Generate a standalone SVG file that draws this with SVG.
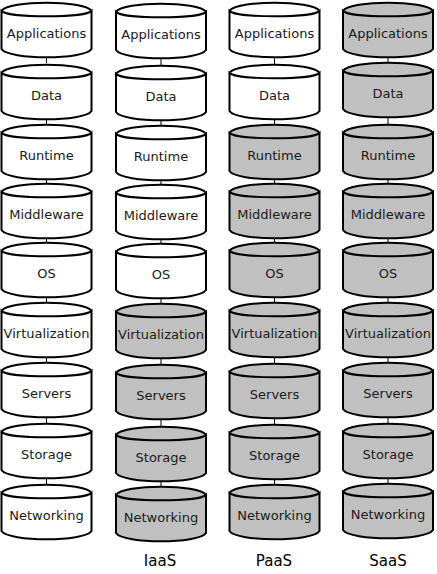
<svg xmlns="http://www.w3.org/2000/svg" xmlns:xlink="http://www.w3.org/1999/xlink" width="437" height="574" viewBox="0 0 437 574">
<defs>
<style>
.cyl{stroke:#000;stroke-width:2;stroke-linejoin:miter}
.w{fill:#fff}
.g{fill:#c0c0c0}
.lbl{font-family:"DejaVu Sans",Verdana,sans-serif;font-size:13px;fill:#1a1a1a;text-anchor:middle}
.cap{font-family:"DejaVu Sans",Verdana,sans-serif;font-size:15px;fill:#000;text-anchor:middle}
.con{stroke:#000;stroke-width:1;fill:none}
</style>
<path id="cyl" d="M-45,-22 C-38,-33 38,-33 45,-22 C38,-15 -38,-15 -45,-22 Z M-45,-22 L-45,16 C-38,27 38,27 45,16 L45,-22 C38,-15 -38,-15 -45,-22 Z"/>
</defs>
<rect width="437" height="574" fill="#fff"/>
<g id="connectors">
<path class="con" d="M46.5,57 V63 M46.5,119 V125 M46.5,179 V184 M46.5,238 V243 M46.5,297 V303 M46.5,357 V363 M46.5,417 V424 M46.5,478 V485"/>
<path class="con" d="M161,58 V66 M161,120 V126 M161,180 V185 M161,239 V244 M161,298 V304 M161,358 V365 M161,419 V427 M161,481 V487"/>
<path class="con" d="M274.5,57 V65 M274.5,119 V125 M274.5,179 V184 M274.5,238 V243 M274.5,297 V303 M274.5,357 V364 M274.5,418 V425 M274.5,479 V485"/>
<path class="con" d="M388,57 V63 M388,117 V125 M388,179 V184 M388,238 V243 M388,297 V303 M388,357 V363 M388,417 V424 M388,478 V484"/>
</g>
<!-- Column 1 -->
<g id="c1-applications"><use href="#cyl" class="cyl w" x="46.5" y="33"/><text class="lbl" x="46.5" y="37.5">Applications</text></g>
<g id="c1-data"><use href="#cyl" class="cyl w" x="46.5" y="95"/><text class="lbl" x="46.5" y="99.5">Data</text></g>
<g id="c1-runtime"><use href="#cyl" class="cyl w" x="46.5" y="155"/><text class="lbl" x="46.5" y="159.5">Runtime</text></g>
<g id="c1-middleware"><use href="#cyl" class="cyl w" x="46.5" y="214"/><text class="lbl" x="46.5" y="218.5">Middleware</text></g>
<g id="c1-os"><use href="#cyl" class="cyl w" x="46.5" y="273"/><text class="lbl" x="46.5" y="277.5">OS</text></g>
<g id="c1-virtualization"><use href="#cyl" class="cyl w" x="46.5" y="333"/><text class="lbl" x="46.5" y="337.5">Virtualization</text></g>
<g id="c1-servers"><use href="#cyl" class="cyl w" x="46.5" y="393"/><text class="lbl" x="46.5" y="397.5">Servers</text></g>
<g id="c1-storage"><use href="#cyl" class="cyl w" x="46.5" y="454"/><text class="lbl" x="46.5" y="458.5">Storage</text></g>
<g id="c1-networking"><use href="#cyl" class="cyl w" x="46.5" y="515"/><text class="lbl" x="46.5" y="519.5">Networking</text></g>
<!-- Column 2 IaaS -->
<g id="c2-applications"><use href="#cyl" class="cyl w" x="161" y="34"/><text class="lbl" x="161" y="38.5">Applications</text></g>
<g id="c2-data"><use href="#cyl" class="cyl w" x="161" y="96"/><text class="lbl" x="161" y="100.5">Data</text></g>
<g id="c2-runtime"><use href="#cyl" class="cyl w" x="161" y="156"/><text class="lbl" x="161" y="160.5">Runtime</text></g>
<g id="c2-middleware"><use href="#cyl" class="cyl w" x="161" y="215"/><text class="lbl" x="161" y="219.5">Middleware</text></g>
<g id="c2-os"><use href="#cyl" class="cyl w" x="161" y="274"/><text class="lbl" x="161" y="278.5">OS</text></g>
<g id="c2-virtualization"><use href="#cyl" class="cyl g" x="161" y="334"/><text class="lbl" x="161" y="338.5">Virtualization</text></g>
<g id="c2-servers"><use href="#cyl" class="cyl g" x="161" y="395"/><text class="lbl" x="161" y="399.5">Servers</text></g>
<g id="c2-storage"><use href="#cyl" class="cyl g" x="161" y="457"/><text class="lbl" x="161" y="461.5">Storage</text></g>
<g id="c2-networking"><use href="#cyl" class="cyl g" x="161" y="517"/><text class="lbl" x="161" y="521.5">Networking</text></g>
<!-- Column 3 PaaS -->
<g id="c3-applications"><use href="#cyl" class="cyl w" x="274.5" y="33"/><text class="lbl" x="274.5" y="37.5">Applications</text></g>
<g id="c3-data"><use href="#cyl" class="cyl w" x="274.5" y="95"/><text class="lbl" x="274.5" y="99.5">Data</text></g>
<g id="c3-runtime"><use href="#cyl" class="cyl g" x="274.5" y="155"/><text class="lbl" x="274.5" y="159.5">Runtime</text></g>
<g id="c3-middleware"><use href="#cyl" class="cyl g" x="274.5" y="214"/><text class="lbl" x="274.5" y="218.5">Middleware</text></g>
<g id="c3-os"><use href="#cyl" class="cyl g" x="274.5" y="273"/><text class="lbl" x="274.5" y="277.5">OS</text></g>
<g id="c3-virtualization"><use href="#cyl" class="cyl g" x="274.5" y="333"/><text class="lbl" x="274.5" y="337.5">Virtualization</text></g>
<g id="c3-servers"><use href="#cyl" class="cyl g" x="274.5" y="394"/><text class="lbl" x="274.5" y="398.5">Servers</text></g>
<g id="c3-storage"><use href="#cyl" class="cyl g" x="274.5" y="455"/><text class="lbl" x="274.5" y="459.5">Storage</text></g>
<g id="c3-networking"><use href="#cyl" class="cyl g" x="274.5" y="515"/><text class="lbl" x="274.5" y="519.5">Networking</text></g>
<!-- Column 4 SaaS -->
<g id="c4-applications"><use href="#cyl" class="cyl g" x="388" y="33"/><text class="lbl" x="388" y="37.5">Applications</text></g>
<g id="c4-data"><use href="#cyl" class="cyl g" x="388" y="93"/><text class="lbl" x="388" y="97.5">Data</text></g>
<g id="c4-runtime"><use href="#cyl" class="cyl g" x="388" y="155"/><text class="lbl" x="388" y="159.5">Runtime</text></g>
<g id="c4-middleware"><use href="#cyl" class="cyl g" x="388" y="214"/><text class="lbl" x="388" y="218.5">Middleware</text></g>
<g id="c4-os"><use href="#cyl" class="cyl g" x="388" y="273"/><text class="lbl" x="388" y="277.5">OS</text></g>
<g id="c4-virtualization"><use href="#cyl" class="cyl g" x="388" y="333"/><text class="lbl" x="388" y="337.5">Virtualization</text></g>
<g id="c4-servers"><use href="#cyl" class="cyl g" x="388" y="393"/><text class="lbl" x="388" y="397.5">Servers</text></g>
<g id="c4-storage"><use href="#cyl" class="cyl g" x="388" y="454"/><text class="lbl" x="388" y="458.5">Storage</text></g>
<g id="c4-networking"><use href="#cyl" class="cyl g" x="388" y="514"/><text class="lbl" x="388" y="518.5">Networking</text></g>
<!-- Column captions -->
<g id="cap-iaas"><text class="cap" x="160" y="566">IaaS</text></g>
<g id="cap-paas"><text class="cap" x="274" y="566">PaaS</text></g>
<g id="cap-saas"><text class="cap" x="388" y="566">SaaS</text></g>
</svg>
